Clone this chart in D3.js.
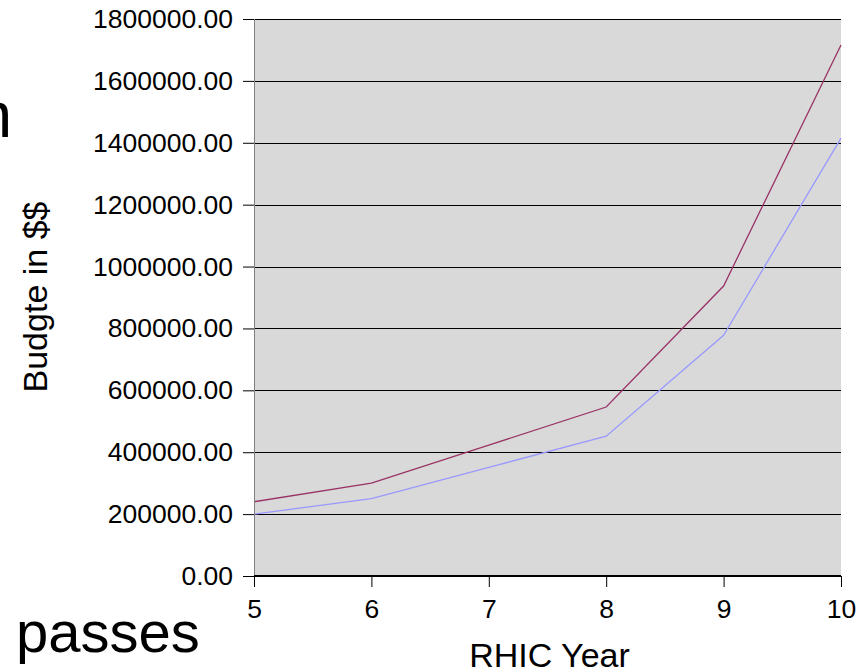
<!DOCTYPE html>
<html>
<head>
<meta charset="utf-8">
<script src="https://cdn.jsdelivr.net/npm/d3@7"></script>
<style>
	body { margin: 0; background: #fff; }
	text { font-family: "Liberation Sans", Arial, sans-serif; }
</style>
</head>
<body>
<div id="graph"></div>
<script>
// Budget per RHIC year, two series
var years = [5, 6, 7, 8, 9, 10];
var budget_high = [240000, 300000, 423000, 546000, 937000, 1716000];
var budget_low = [200000, 250000, 351000, 452000, 778000, 1415000];
var y_ticks = [0, 200000, 400000, 600000, 800000, 1000000, 1200000, 1400000, 1600000, 1800000];
var x_ticks = [5, 6, 7, 8, 9, 10];

var margin = {top: 19, right: 15, bottom: 94, left: 254};
var width = 856 - margin.left - margin.right;
var height = 670 - margin.top - margin.bottom;

var scale_year = d3.scaleLinear()
	.range([0, width])
	.domain([5, 10]);
var scale_budget = d3.scaleLinear()
	.range([height, 0])
	.domain([0, 1800000]);

var line = d3.line()
	.x(function(d, i) {return scale_year(years[i]);})
	.y(function(d) {return scale_budget(d);});

var root = d3.select("#graph").append("svg")
	.attr("width", 856)
	.attr("height", 670);

// Leftover slide text behind the chart
root.append("text")
	.attr("x", 12)
	.attr("y", 137)
	.style("text-anchor", "end")
	.style("font-size", "64px")
	.style("fill", "#000")
	.text("n");

root.append("text")
	.attr("x", 16)
	.attr("y", 652)
	.style("font-size", "58px")
	.style("fill", "#000")
	.text("passes");

var svg = root.append("g")
	.attr("transform", "translate(" + margin.left + "," + margin.top + ")");

// Plot background
svg.append("rect")
	.attr("x", 0)
	.attr("y", 0)
	.attr("width", width)
	.attr("height", height)
	.style("fill", "#d9d9d9");

// Gridlines
svg.selectAll(".grid")
	.data(y_ticks.slice(1))
	.enter()
	.append("line")
	.attr("class", "grid")
	.attr("x1", 0)
	.attr("x2", width)
	.attr("y1", function(d) {return Math.round(scale_budget(d)) + 0.5;})
	.attr("y2", function(d) {return Math.round(scale_budget(d)) + 0.5;})
	.style("stroke", "#000")
	.style("stroke-width", 1);

// Series lines
svg.append("path")
	.attr("fill", "none")
	.attr("stroke", "#993366")
	.attr("stroke-width", 1.3)
	.attr("d", line(budget_high));

svg.append("path")
	.attr("fill", "none")
	.attr("stroke", "#9999ff")
	.attr("stroke-width", 1.3)
	.attr("d", line(budget_low));

// Axes
var y_axis = svg.append("g")
	.call(d3.axisLeft(scale_budget)
		.tickValues(y_ticks)
		.tickSize(11)
		.tickPadding(10)
		.tickFormat(d3.format(".2f")));
y_axis.select(".domain").remove();
y_axis.selectAll("line").style("stroke", "#000");
y_axis.selectAll("text")
	.style("font-size", "26.5px")
	.style("fill", "#000")
	.style("font-family", "'Liberation Sans', Arial, sans-serif");

svg.append("line")
	.attr("x1", 0.5)
	.attr("x2", 0.5)
	.attr("y1", 0)
	.attr("y2", height)
	.style("stroke", "#808080");

var x_axis = svg.append("g")
	.attr("transform", "translate(0," + height + ")")
	.call(d3.axisBottom(scale_year)
		.tickValues(x_ticks)
		.tickSize(11)
		.tickPadding(12)
		.tickFormat(d3.format("d")));
x_axis.select(".domain").remove();
x_axis.selectAll("line").style("stroke", "#000");
x_axis.selectAll("text")
	.style("font-size", "26.5px")
	.style("fill", "#000")
	.style("font-family", "'Liberation Sans', Arial, sans-serif");

svg.append("line")
	.attr("x1", 0)
	.attr("x2", width)
	.attr("y1", height)
	.attr("y2", height)
	.style("stroke", "#000")
	.style("stroke-width", 2);

// Axis titles
svg.append("text")
	.attr("x", scale_year(7.5) + 2)
	.attr("y", height + 91)
	.style("text-anchor", "middle")
	.style("font-size", "34px")
	.style("fill", "#000")
	.text("RHIC Year");

svg.append("text")
	.attr("transform", "rotate(-90)")
	.attr("x", 0 - (297 - margin.top))
	.attr("y", 47 - margin.left)
	.style("text-anchor", "middle")
	.style("font-size", "34px")
	.style("fill", "#000")
	.text("Budgte in $$");
</script>
</body>
</html>
